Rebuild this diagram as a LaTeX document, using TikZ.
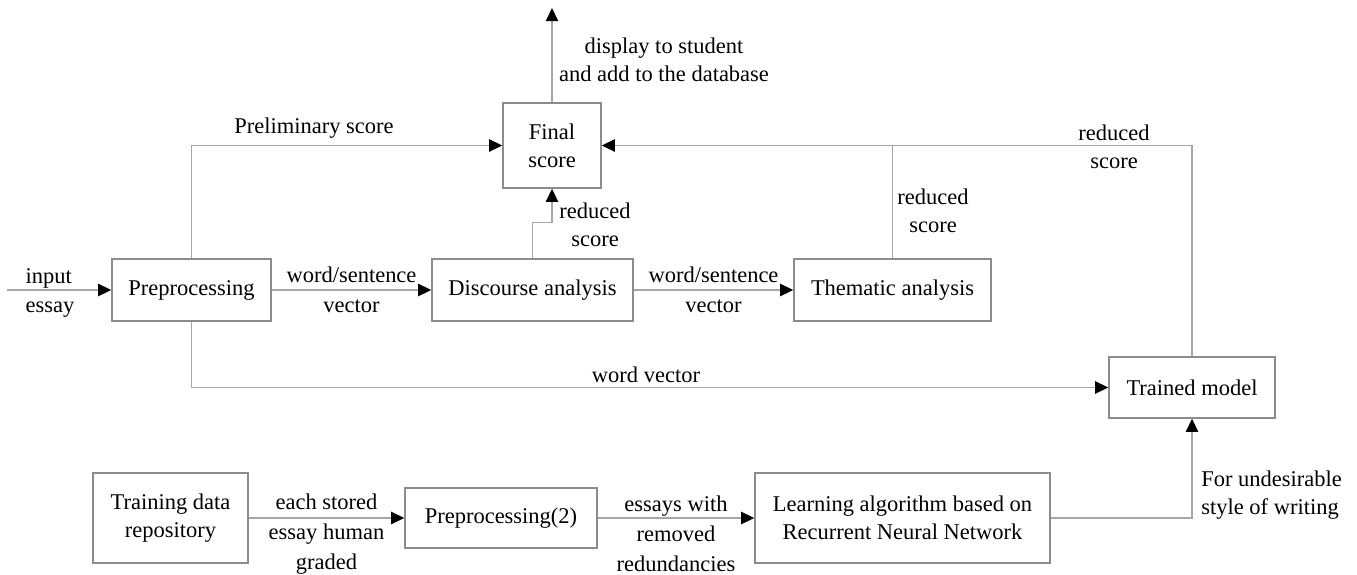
\documentclass[tikz,border=0pt]{standalone}
\usepackage{fontspec}
\setmainfont{Liberation Serif}
\usetikzlibrary{arrows.meta, positioning}
\definecolor{boxgray}{HTML}{8C8C8C}
\definecolor{linegray}{HTML}{A6A6A6}
\tikzset{basic/.style={draw=boxgray,fill=none,line width=0.8pt,
                       align=center,font=\fontsize{12.8}{16}\selectfont}}
\tikzset{block/.style={basic,rectangle,inner sep=0pt}}
\tikzset{note/.style={align=center,inner sep=0pt,font=\fontsize{12.8}{16}\selectfont}}
\tikzset{wire/.style={draw=linegray,line width=0.8pt}}
\tikzset{link/.style={wire,-{Triangle[length=7.5pt,width=7pt,color=black]}}}

\begin{document}
\begin{tikzpicture}
    \useasboundingbox (0,0) rectangle (27.14,11.48);
    % Draw upper row of blocks
    \node[block, minimum width=3.18cm, minimum height=1.24cm] (pre) at (3.83,5.68) {Preprocessing};
    \node[block, minimum width=4.02cm, minimum height=1.24cm] (disc) at (10.65,5.68) {Discourse analysis};
    \node[block, minimum width=3.94cm, minimum height=1.24cm] (thematic) at (17.85,5.68) {Thematic analysis};
    \node[block, minimum width=1.96cm, minimum height=1.70cm] (final) at (11.04,8.57) {Final\\score};
    \node[block, minimum width=3.32cm, minimum height=1.22cm] (trained) at (23.84,3.73) {Trained model};
    % Draw lower row of blocks
    \node[block, minimum width=3.10cm, minimum height=1.80cm] (repo) at (3.41,1.12) {Training data\\repository};
    \node[block, minimum width=3.84cm, minimum height=1.20cm] (pre_two) at (10.02,1.12) {Preprocessing(2)};
    \node[block, minimum width=5.90cm, minimum height=1.80cm] (learning) at (18.05,1.12) {Learning algorithm based on\\Recurrent Neural Network};
    % Free ends
    \coordinate (in) at (0.14,5.68);
    \coordinate (out) at (11.04,11.32);
    \coordinate (join) at (thematic.north |- final.east);
    % Straight arrows along the rows
    \foreach \a/\b/\s/\t in {pre/disc/0/{word/sentence\\[1pt]vector},
                             disc/thematic/0/{word/sentence\\[1pt]vector},
                             repo/pre_two/-0.32/{each stored\\[1pt]essay human\\[1pt]graded},
                             pre_two/learning/-0.32/{essays with\\[1pt]removed\\[1pt]redundancies}}{%
        \draw[link] (\a) -- node[note, yshift=\s cm] {\t} (\b);
      }
    \draw[link] (in) -- (pre);
    % Arrows into the final score
    \draw[link] (pre.north) |- (final.west);
    \draw[link] (disc.north) -- ++(0,0.72) -| (final.south);
    \draw[link] (thematic.north) |- (final.east);
    \draw[wire] (trained.north) |- (join);
    \draw[link] (final.north) -- (out);
    % Arrows into the trained model
    \draw[link] (pre.south) |- (trained.west);
    \draw[link] (learning.east) -| (trained.south);
    % Labels
    \node[note, align=left] at (1.0,5.62) {input\\[1pt]essay};
    \node[note] at (6.28,8.92) {Preliminary score};
    \node[note] at (13.28,10.29) {display to student\\and add to the database};
    \node[note] at (11.9,6.98) {reduced\\score};
    \node[note] at (18.66,7.27) {reduced\\score};
    \node[note] at (22.28,8.54) {reduced\\score};
    \node[note] at (12.92,3.98) {word vector};
    \node[note, align=left, anchor=west] at (24.02,1.57) {For undesirable\\style of writing};
\end{tikzpicture}
\end{document}
